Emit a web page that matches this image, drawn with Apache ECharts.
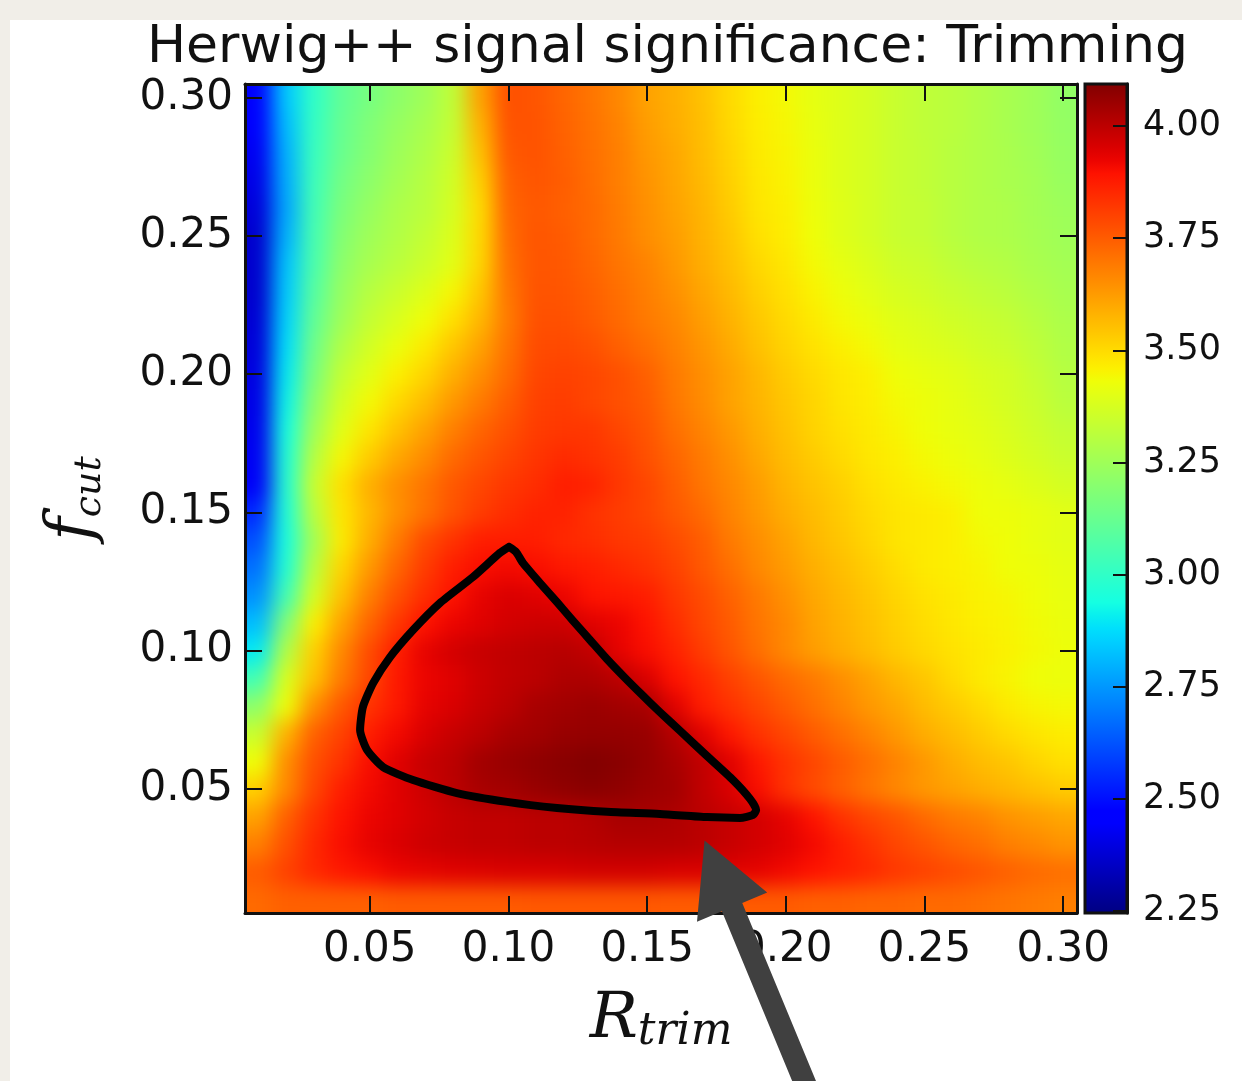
<!DOCTYPE html>
<html>
<head>
<meta charset="utf-8">
<script src="https://cdn.jsdelivr.net/npm/echarts@6/dist/echarts.min.js"></script>
<style>
html,body{margin:0;padding:0;width:1242px;height:1081px;overflow:hidden;background:#f1eee8;}
#panel{position:absolute;left:10px;top:20px;width:1232px;height:1061px;background:#ffffff;}
#heatclip{position:absolute;left:245px;top:84px;width:832px;height:829px;overflow:hidden;}
#heat{position:absolute;left:-40px;top:-40px;width:912px;height:909px;filter:blur(10px);}
#main{position:absolute;left:0;top:0;width:1242px;height:1081px;}
</style>
</head>
<body>
<div id="panel"></div>
<div id="heatclip"><div id="heat"></div></div>
<div id="main"></div>
<script>
// ---------------- data ----------------
const rTrim = [0.01,0.02,0.03,0.04,0.05,0.06,0.07,0.08,0.09,0.10,0.11,0.12,0.13,0.14,0.15,
               0.16,0.17,0.18,0.19,0.20,0.21,0.22,0.23,0.24,0.25,0.26,0.27,0.28,0.29,0.30];
const fCut  = [0.01,0.02,0.03,0.04,0.05,0.06,0.07,0.08,0.09,0.10,0.11,0.12,0.13,0.14,0.15,
               0.16,0.17,0.18,0.19,0.20,0.21,0.22,0.23,0.24,0.25,0.26,0.27,0.28,0.29,0.30];
// significance[j][i] : value at fCut[j], rTrim[i]
const significance = [
/*0.01*/[3.72,3.74,3.74,3.74,3.74,3.75,3.75,3.75,3.75,3.75,3.755,3.755,3.755,3.755,3.755,3.75,3.75,3.75,3.75,3.75,3.74,3.74,3.73,3.73,3.72,3.72,3.71,3.70,3.69,3.68],
/*0.02*/[3.75,3.80,3.85,3.88,3.90,3.92,3.93,3.94,3.945,3.95,3.95,3.955,3.96,3.96,3.96,3.95,3.95,3.94,3.93,3.91,3.89,3.87,3.85,3.82,3.80,3.78,3.76,3.74,3.72,3.71],
/*0.03*/[3.68,3.77,3.85,3.90,3.93,3.95,3.97,3.98,3.99,3.99,4.00,4.00,4.005,4.01,4.01,4.01,4.00,3.98,3.96,3.94,3.91,3.87,3.83,3.79,3.76,3.73,3.71,3.68,3.66,3.64],
/*0.04*/[3.61,3.74,3.83,3.89,3.92,3.94,3.96,3.98,3.99,3.99,4.00,4.00,4.01,4.03,4.03,4.02,4.00,3.98,3.96,3.93,3.89,3.83,3.79,3.76,3.72,3.69,3.67,3.64,3.62,3.60],
/*0.05*/[3.52,3.66,3.79,3.87,3.91,3.94,3.97,4.00,4.03,4.04,4.055,4.07,4.08,4.07,4.05,4.04,3.99,3.95,3.90,3.83,3.78,3.74,3.70,3.66,3.63,3.61,3.59,3.57,3.55,3.53],
/*0.06*/[3.43,3.65,3.77,3.83,3.90,3.94,3.98,4.00,4.04,4.055,4.07,4.08,4.09,4.08,4.06,4.03,3.99,3.94,3.88,3.83,3.79,3.75,3.71,3.67,3.63,3.59,3.56,3.54,3.51,3.49],
/*0.07*/[3.34,3.58,3.74,3.80,3.87,3.91,3.95,3.98,4.00,4.03,4.04,4.055,4.06,4.06,4.055,4.01,3.94,3.88,3.83,3.79,3.75,3.71,3.67,3.63,3.59,3.56,3.53,3.50,3.48,3.465],
/*0.08*/[3.21,3.43,3.65,3.755,3.83,3.88,3.93,3.95,3.98,4.00,4.03,4.04,4.05,4.04,4.03,3.94,3.87,3.83,3.79,3.75,3.71,3.67,3.63,3.60,3.56,3.53,3.50,3.47,3.45,3.44],
/*0.09*/[3.04,3.38,3.55,3.69,3.79,3.88,3.92,3.94,3.97,3.99,4.00,4.02,4.02,4.00,3.95,3.89,3.85,3.80,3.76,3.72,3.69,3.65,3.61,3.57,3.54,3.50,3.47,3.45,3.43,3.42],
/*0.10*/[2.90,3.29,3.52,3.66,3.78,3.87,3.93,3.96,3.98,3.99,4.00,4.005,3.99,3.93,3.90,3.86,3.81,3.76,3.71,3.66,3.62,3.59,3.56,3.53,3.505,3.485,3.47,3.455,3.44,3.425],
/*0.11*/[2.82,3.18,3.46,3.61,3.73,3.82,3.89,3.92,3.94,3.96,3.97,3.97,3.94,3.92,3.89,3.84,3.79,3.75,3.70,3.66,3.61,3.58,3.55,3.52,3.495,3.475,3.46,3.45,3.435,3.42],
/*0.12*/[2.74,3.04,3.37,3.55,3.68,3.77,3.84,3.89,3.93,3.95,3.94,3.92,3.89,3.88,3.87,3.82,3.78,3.735,3.69,3.645,3.60,3.57,3.54,3.51,3.485,3.47,3.455,3.445,3.43,3.415],
/*0.13*/[2.68,2.97,3.31,3.51,3.63,3.73,3.81,3.87,3.90,3.91,3.90,3.88,3.87,3.85,3.83,3.80,3.755,3.71,3.66,3.625,3.585,3.555,3.525,3.495,3.47,3.46,3.45,3.43,3.425,3.41],
/*0.14*/[2.62,2.95,3.26,3.47,3.59,3.69,3.78,3.83,3.87,3.87,3.87,3.85,3.84,3.82,3.81,3.78,3.745,3.69,3.65,3.61,3.57,3.54,3.51,3.48,3.47,3.46,3.44,3.43,3.415,3.40],
/*0.15*/[2.55,2.96,3.31,3.48,3.57,3.645,3.705,3.765,3.81,3.84,3.86,3.86,3.83,3.81,3.79,3.755,3.72,3.67,3.63,3.59,3.56,3.53,3.50,3.48,3.47,3.46,3.43,3.425,3.415,3.40],
/*0.16*/[2.44,2.97,3.34,3.49,3.585,3.65,3.70,3.755,3.79,3.82,3.84,3.87,3.86,3.82,3.79,3.745,3.70,3.66,3.62,3.575,3.545,3.52,3.49,3.47,3.455,3.44,3.425,3.41,3.39,3.37],
/*0.17*/[2.43,2.96,3.30,3.445,3.53,3.60,3.655,3.72,3.76,3.795,3.825,3.845,3.83,3.81,3.77,3.73,3.69,3.645,3.60,3.56,3.53,3.50,3.475,3.46,3.44,3.425,3.41,3.39,3.37,3.345],
/*0.18*/[2.42,2.94,3.25,3.40,3.48,3.55,3.61,3.68,3.73,3.77,3.81,3.82,3.82,3.79,3.76,3.71,3.67,3.63,3.585,3.55,3.515,3.49,3.47,3.45,3.43,3.415,3.40,3.38,3.355,3.33],
/*0.19*/[2.41,2.92,3.21,3.365,3.44,3.505,3.56,3.63,3.69,3.745,3.80,3.81,3.79,3.77,3.75,3.695,3.655,3.61,3.575,3.54,3.51,3.48,3.465,3.44,3.425,3.41,3.39,3.37,3.345,3.31],
/*0.20*/[2.40,2.90,3.17,3.33,3.40,3.46,3.51,3.585,3.65,3.72,3.79,3.80,3.79,3.77,3.74,3.69,3.65,3.61,3.57,3.53,3.50,3.475,3.46,3.43,3.415,3.40,3.38,3.365,3.335,3.30],
/*0.21*/[2.39,2.88,3.14,3.29,3.365,3.42,3.47,3.54,3.61,3.705,3.78,3.785,3.77,3.74,3.71,3.675,3.635,3.595,3.55,3.515,3.485,3.46,3.44,3.41,3.395,3.38,3.36,3.345,3.32,3.29],
/*0.22*/[2.38,2.86,3.11,3.25,3.33,3.38,3.43,3.49,3.57,3.69,3.77,3.77,3.75,3.72,3.69,3.66,3.62,3.58,3.535,3.50,3.47,3.44,3.42,3.395,3.38,3.36,3.345,3.33,3.305,3.28],
/*0.23*/[2.37,2.845,3.085,3.23,3.30,3.345,3.39,3.445,3.54,3.70,3.765,3.76,3.74,3.71,3.68,3.645,3.605,3.565,3.52,3.49,3.455,3.425,3.40,3.375,3.36,3.34,3.325,3.31,3.29,3.27],
/*0.24*/[2.37,2.83,3.06,3.21,3.27,3.31,3.35,3.40,3.51,3.71,3.76,3.755,3.73,3.70,3.67,3.63,3.59,3.55,3.505,3.475,3.44,3.41,3.385,3.355,3.345,3.32,3.305,3.295,3.275,3.26],
/*0.25*/[2.37,2.80,3.05,3.19,3.25,3.29,3.33,3.385,3.505,3.72,3.76,3.75,3.72,3.69,3.65,3.62,3.58,3.54,3.49,3.465,3.43,3.395,3.37,3.34,3.33,3.305,3.29,3.28,3.265,3.25],
/*0.26*/[2.39,2.78,3.04,3.17,3.23,3.28,3.31,3.37,3.50,3.73,3.755,3.74,3.72,3.685,3.645,3.61,3.575,3.53,3.48,3.46,3.425,3.395,3.37,3.34,3.33,3.305,3.29,3.28,3.26,3.245],
/*0.27*/[2.41,2.79,3.03,3.15,3.21,3.26,3.30,3.36,3.52,3.74,3.76,3.745,3.715,3.68,3.64,3.605,3.565,3.52,3.475,3.455,3.42,3.39,3.37,3.34,3.325,3.305,3.29,3.275,3.26,3.235],
/*0.28*/[2.43,2.80,3.02,3.13,3.19,3.245,3.285,3.345,3.55,3.755,3.765,3.74,3.71,3.68,3.63,3.60,3.56,3.515,3.47,3.45,3.42,3.39,3.37,3.34,3.325,3.305,3.29,3.275,3.255,3.23],
/*0.29*/[2.45,2.82,3.01,3.12,3.18,3.23,3.27,3.33,3.58,3.765,3.765,3.735,3.705,3.67,3.62,3.59,3.555,3.505,3.465,3.445,3.415,3.39,3.37,3.34,3.32,3.31,3.29,3.27,3.25,3.225],
/*0.30*/[2.45,2.84,3.00,3.11,3.16,3.21,3.25,3.32,3.61,3.77,3.76,3.73,3.70,3.66,3.61,3.585,3.55,3.50,3.46,3.44,3.41,3.39,3.37,3.34,3.32,3.31,3.29,3.27,3.25,3.22]
];
// closed contour (R_trim, f_cut)
const contourR = [0.1002,0.0969,0.0872,0.0753,0.0656,0.0573,0.0512,0.0475,0.0465,0.0490,0.0548,0.0656,0.0814,0.0995,0.1175,0.1355,0.1546,0.1716,0.1835,0.1882,0.1893,0.1871,0.1810,0.1716,0.1619,0.1546,0.1482,0.1417,0.1355,0.1294,0.1233,0.1175,0.1114,0.1052,0.1027,0.1002];
const contourF = [0.1375,0.1353,0.1266,0.1172,0.1074,0.0976,0.0882,0.0795,0.0712,0.0640,0.0578,0.0531,0.0484,0.0452,0.0430,0.0416,0.0408,0.0397,0.0394,0.0405,0.0423,0.0463,0.0531,0.0618,0.0709,0.0777,0.0839,0.0904,0.0969,0.1038,0.1107,0.1175,0.1244,0.1317,0.1357,0.1375];
// annotation arrow (tail -> tip), in axis units
const arrowTail = [0.2094, -0.0626];
const arrowTip  = [0.1707, 0.0312];
// tick values
const axisTicks = [0.05,0.10,0.15,0.20,0.25,0.30];
const colorbarTicks = [2.25,2.50,2.75,3.00,3.25,3.50,3.75,4.00];
const colorRange = [2.245, 4.094];
const axisExtent = [0.005, 0.305];
const cellStep = 0.01;

// jet colormap definition
const jetRed   = [[0,0],[0.35,0],[0.66,1],[0.89,1],[1,0.5]];
const jetGreen = [[0,0],[0.125,0],[0.375,1],[0.64,1],[0.91,0],[1,0]];
const jetBlue  = [[0,0.5],[0.11,1],[0.34,1],[0.65,0],[1,0]];
function seg(s,t){for(let k=1;k<s.length;k++){if(t<=s[k][0]){const a=s[k-1],b=s[k];return a[1]+(b[1]-a[1])*(t-a[0])/(b[0]-a[0]);}}return s[s.length-1][1];}
function jet(t){const h=v=>Math.round(Math.max(0,Math.min(1,v))*255).toString(16).padStart(2,'0');return '#'+h(seg(jetRed,t))+h(seg(jetGreen,t))+h(seg(jetBlue,t));}
const jetColors=[];for(let k=0;k<=64;k++)jetColors.push(jet(k/64));

// ---------------- heat layer ----------------
const heatData=[];
fCut.forEach((y,j)=>rTrim.forEach((x,i)=>heatData.push([x,y,significance[j][i]])));
const heatChart=echarts.init(document.getElementById('heat'),null,{renderer:'canvas'});
heatChart.setOption({
  animation:false,
  grid:{left:40,top:40,width:832,height:829},
  xAxis:{type:'value',min:axisExtent[0],max:axisExtent[1],show:false},
  yAxis:{type:'value',min:axisExtent[0],max:axisExtent[1],show:false},
  visualMap:{type:'continuous',show:false,min:colorRange[0],max:colorRange[1],dimension:2,inRange:{color:jetColors}},
  series:[{
    type:'custom',clip:false,data:heatData,
    renderItem:function(params,api){
      const x=api.value(0),y=api.value(1);
      const c=api.coord([x,y]);
      const s=api.size([cellStep,cellStep]);
      let x0=c[0]-s[0]/2,x1=c[0]+s[0]/2,y0=c[1]-s[1]/2,y1=c[1]+s[1]/2;
      if(x===rTrim[0])x0-=40;
      if(x===rTrim[rTrim.length-1])x1+=40;
      if(y===fCut[0])y1+=40;
      if(y===fCut[fCut.length-1])y0-=40;
      return {type:'rect',shape:{x:x0-0.5,y:y0-0.5,width:x1-x0+1,height:y1-y0+1},style:{fill:api.visual('color')}};
    }
  }]
});

// ---------------- main layer ----------------
const INK='#111111';
const tickFont={fontFamily:'DejaVu Sans',fontSize:42,color:INK};
function frameAxis(extra){
  return Object.assign({
    type:'value',min:axisExtent[0],max:axisExtent[1],gridIndex:0,
    axisLine:{show:true,onZero:false,lineStyle:{color:INK,width:3}},
    axisTick:{show:true,inside:true,length:17,lineStyle:{color:INK,width:2},customValues:axisTicks},
    axisLabel:{show:false},
    splitLine:{show:false}
  },extra);
}
const chart=echarts.init(document.getElementById('main'),null,{renderer:'canvas'});
chart.setOption({
  animation:false,
  backgroundColor:'transparent',
  title:{text:'Herwig++ signal significance: Trimming',left:147,top:22,padding:0,
    textStyle:{fontFamily:'DejaVu Sans',fontSize:52,fontWeight:'normal',color:INK}},
  grid:[{left:245,top:84,width:832,height:829},{left:1085,top:84,width:42,height:829}],
  xAxis:[
    frameAxis({position:'bottom',
      axisLabel:Object.assign({show:true,margin:16,customValues:axisTicks,formatter:v=>v.toFixed(2)},tickFont),
      name:'{R|R}{s|trim}',nameLocation:'middle',nameGap:72,
      nameTextStyle:{rich:{
        R:{fontFamily:'DejaVu Serif',fontStyle:'italic',fontSize:64,lineHeight:70,color:INK},
        s:{fontFamily:'DejaVu Serif',fontStyle:'italic',fontSize:44,lineHeight:30,verticalAlign:'bottom',color:INK}}}
    }),
    frameAxis({position:'top'}),
    {type:'value',gridIndex:1,min:0,max:1,show:false}
  ],
  yAxis:[
    frameAxis({position:'left',
      axisLabel:Object.assign({show:true,margin:12,customValues:axisTicks,formatter:v=>v.toFixed(2)},tickFont),
      name:'{f|f}{s|cut}',nameLocation:'middle',nameRotate:90,nameGap:136,
      nameTextStyle:{rich:{
        f:{fontFamily:'DejaVu Serif',fontStyle:'italic',fontSize:64,lineHeight:70,color:INK},
        s:{fontFamily:'DejaVu Serif',fontStyle:'italic',fontSize:38,lineHeight:30,verticalAlign:'bottom',color:INK}}}
    }),
    frameAxis({position:'right'}),
    {type:'value',gridIndex:1,position:'right',min:colorRange[0],max:colorRange[1],z:5,
      axisLine:{show:true,onZero:false,lineStyle:{color:INK,width:3}},
      axisTick:{show:true,inside:true,length:14,lineStyle:{color:INK,width:2},customValues:colorbarTicks},
      axisLabel:{show:true,margin:16,customValues:colorbarTicks,formatter:v=>v.toFixed(2),fontFamily:'DejaVu Sans',fontSize:35,color:INK},
      splitLine:{show:false}}
  ],
  series:[
    {type:'line',xAxisIndex:0,yAxisIndex:0,data:contourR.map((r,k)=>[r,contourF[k]]),
      showSymbol:false,symbol:'none',smooth:0.2,z:5,
      lineStyle:{color:'#000000',width:8,join:'round',cap:'round'}},
    {type:'custom',xAxisIndex:2,yAxisIndex:2,z:1,clip:false,
      data:[[0,colorRange[0],1,colorRange[1]]],
      renderItem:function(params,api){
        const a=api.coord([api.value(0),api.value(3)]);
        const b=api.coord([api.value(2),api.value(1)]);
        const stops=jetColors.map((c,k)=>({offset:k/(jetColors.length-1),color:c}));
        return {type:'rect',shape:{x:a[0],y:a[1],width:b[0]-a[0],height:b[1]-a[1]},
          style:{fill:new echarts.graphic.LinearGradient(0,1,0,0,stops),stroke:INK,lineWidth:3}};
      }},
    {type:'custom',xAxisIndex:0,yAxisIndex:0,z:20,clip:false,
      data:[[arrowTail[0],arrowTail[1],arrowTip[0],arrowTip[1]]],
      renderItem:function(params,api){
        const a=api.coord([api.value(0),api.value(1)]);
        const b=api.coord([api.value(2),api.value(3)]);
        const dx=b[0]-a[0],dy=b[1]-a[1],L=Math.hypot(dx,dy);
        const ux=dx/L,uy=dy/L,nx=-uy,ny=ux;
        const headLen=72,headHalf=38,shaftHalf=11;
        const bx=b[0]-ux*headLen,by=b[1]-uy*headLen;
        const pts=[[a[0]+nx*shaftHalf,a[1]+ny*shaftHalf],[bx+nx*shaftHalf,by+ny*shaftHalf],[bx+nx*headHalf,by+ny*headHalf],
          [b[0],b[1]],[bx-nx*headHalf,by-ny*headHalf],[bx-nx*shaftHalf,by-ny*shaftHalf],[a[0]-nx*shaftHalf,a[1]-ny*shaftHalf]];
        return {type:'polygon',shape:{points:pts},style:{fill:'#404040'}};
      }}
  ]
});
</script>
</body>
</html>
